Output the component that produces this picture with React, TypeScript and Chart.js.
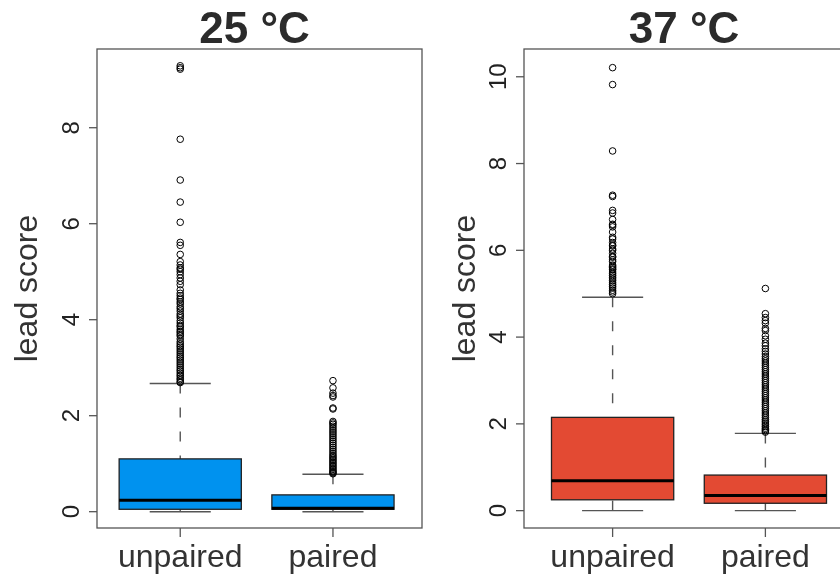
import React, { useEffect, useRef } from 'react';
import { Chart, registerables } from 'chart.js';

Chart.register(...registerables);

// ---------- data ----------
const categories = ['unpaired', 'paired'];

const title25 = '25 °C';
const yTicks25 = [0, 2, 4, 6, 8];
const whiskerLo25 = [0, 0];
const q1_25 = [0.05, 0.05];
const median25 = [0.24, 0.07];
const q3_25 = [1.1, 0.35];
const whiskerHi25 = [2.67, 0.78];
const outliers25Unpaired = [9.29, 9.25, 9.22, 7.76, 6.91, 6.45, 6.03, 5.61, 5.55, 5.36, 5.21, 5.14, 5.08, 5.05, 5.0, 4.94, 4.87, 4.8, 4.73, 4.62, 4.55, 4.5, 4.45, 4.42, 4.37, 4.33, 4.27, 4.23, 4.18, 4.12, 4.08, 4.04, 3.98, 3.93, 3.88, 3.85, 3.8, 3.76, 3.73, 3.69, 3.66, 3.6, 3.54, 3.5, 3.46, 3.43, 3.39, 3.35, 3.31, 3.27, 3.23, 3.2, 3.16, 3.12, 3.08, 3.04, 3.0, 2.96, 2.93, 2.89, 2.85, 2.82, 2.78, 2.75, 2.71, 2.69];
const outliers25Paired = [2.73, 2.58, 2.47, 2.42, 2.39, 2.16, 2.14, 1.88, 1.85, 1.82, 1.78, 1.74, 1.7, 1.66, 1.62, 1.58, 1.54, 1.5, 1.46, 1.42, 1.38, 1.34, 1.3, 1.26, 1.22, 1.18, 1.15, 1.12, 1.09, 1.06, 1.03, 1.0, 0.97, 0.94, 0.91, 0.88, 0.85, 0.83, 0.81, 0.79];

const title37 = '37 °C';
const yTicks37 = [0, 2, 4, 6, 8, 10];
const whiskerLo37 = [0, 0];
const q1_37 = [0.25, 0.17];
const median37 = [0.69, 0.35];
const q3_37 = [2.15, 0.82];
const whiskerHi37 = [4.92, 1.78];
const outliers37Unpaired = [10.21, 9.82, 8.29, 7.27, 7.24, 6.92, 6.86, 6.71, 6.6, 6.58, 6.54, 6.42, 6.3, 6.26, 6.18, 6.12, 6.1, 6.03, 6.0, 5.93, 5.86, 5.84, 5.78, 5.74, 5.66, 5.63, 5.6, 5.57, 5.55, 5.5, 5.46, 5.42, 5.38, 5.34, 5.3, 5.25, 5.21, 5.17, 5.13, 5.08, 5.04, 5.0];
const outliers37Paired = [5.12, 4.54, 4.45, 4.38, 4.32, 4.2, 4.15, 4.03, 3.95, 3.86, 3.8, 3.73, 3.67, 3.61, 3.55, 3.5, 3.45, 3.4, 3.35, 3.3, 3.25, 3.2, 3.15, 3.1, 3.05, 3.0, 2.95, 2.9, 2.85, 2.8, 2.75, 2.7, 2.65, 2.6, 2.55, 2.5, 2.45, 2.4, 2.35, 2.3, 2.25, 2.2, 2.15, 2.1, 2.06, 2.02, 1.98, 1.94, 1.9, 1.87, 1.84, 1.81];

const yTitle = 'lead score';

// ---------- styling ----------
const FONT = '"Liberation Sans", Arial, Helvetica, sans-serif';
const BLUE = '#0092EF';
const RED = '#E34A33';

type PanelSpec = {
  title: string;
  yTicks: number[];
  lo: number[];
  q1: number[];
  med: number[];
  q3: number[];
  hi: number[];
  outliers: number[][];
  fill: string;
  xMin: number;
  xMax: number;
  yMin: number;
  yMax: number;
  padding: { left: number; right: number; top: number; bottom: number };
  yTitleBaseline: number;
  canvasLeft: number;
  canvasWidth: number;
};

function boxPlugin(p: PanelSpec) {
  return {
    id: 'rBoxplot',
    beforeDatasetsDraw(chart: any) {
      const { ctx, scales } = chart;
      const x = scales.x;
      const y = scales.y;
      ctx.save();
      const line = (x1: number, y1: number, x2: number, y2: number) => {
        ctx.beginPath();
        ctx.moveTo(x1, y1);
        ctx.lineTo(x2, y2);
        ctx.stroke();
      };
      p.q1.forEach((_, i) => {
        const pos = i + 1;
        const cx = x.getPixelForValue(pos);
        const bl = x.getPixelForValue(pos - 0.4);
        const br = x.getPixelForValue(pos + 0.4);
        const cl = x.getPixelForValue(pos - 0.2);
        const cr = x.getPixelForValue(pos + 0.2);
        const yLo = y.getPixelForValue(p.lo[i]);
        const yQ1 = y.getPixelForValue(p.q1[i]);
        const yMed = y.getPixelForValue(p.med[i]);
        const yQ3 = y.getPixelForValue(p.q3[i]);
        const yHi = y.getPixelForValue(p.hi[i]);
        // whiskers (dashed)
        ctx.strokeStyle = '#555';
        ctx.lineWidth = 1.4;
        ctx.setLineDash([10, 14]);
        line(cx, yHi, cx, yQ3);
        line(cx, yLo, cx, yQ1);
        ctx.setLineDash([]);
        // staples
        line(cl, yHi, cr, yHi);
        line(cl, yLo, cr, yLo);
        // box
        ctx.fillStyle = p.fill;
        ctx.fillRect(bl, yQ3, br - bl, yQ1 - yQ3);
        ctx.strokeStyle = '#222';
        ctx.lineWidth = 1.3;
        ctx.strokeRect(bl, yQ3, br - bl, yQ1 - yQ3);
        // median
        ctx.strokeStyle = '#000';
        ctx.lineWidth = 3;
        line(bl, yMed, br, yMed);
      });
      ctx.restore();
    },
    afterDraw(chart: any) {
      const { ctx, chartArea: a, scales } = chart;
      const x = scales.x;
      const y = scales.y;
      ctx.save();
      // frame
      ctx.strokeStyle = '#555';
      ctx.lineWidth = 1.3;
      ctx.strokeRect(a.left, a.top, a.right - a.left, a.bottom - a.top);
      // y ticks + labels
      ctx.fillStyle = '#222';
      ctx.font = `24px ${FONT}`;
      p.yTicks.forEach((t) => {
        const py = y.getPixelForValue(t);
        ctx.beginPath();
        ctx.moveTo(a.left - 8, py);
        ctx.lineTo(a.left, py);
        ctx.stroke();
        ctx.save();
        ctx.translate(a.left - 18, py);
        ctx.rotate(-Math.PI / 2);
        ctx.textAlign = 'center';
        ctx.textBaseline = 'alphabetic';
        ctx.fillText(String(t), 0, 0);
        ctx.restore();
      });
      // x ticks + labels
      ctx.fillStyle = '#333';
      ctx.font = `32px ${FONT}`;
      categories.forEach((c, i) => {
        const px = x.getPixelForValue(i + 1);
        ctx.beginPath();
        ctx.moveTo(px, a.bottom);
        ctx.lineTo(px, a.bottom + 9);
        ctx.stroke();
        ctx.textAlign = 'center';
        ctx.textBaseline = 'alphabetic';
        ctx.fillText(c, px, 566.5);
      });
      // y title
      ctx.save();
      ctx.translate(p.yTitleBaseline, (a.top + a.bottom) / 2);
      ctx.rotate(-Math.PI / 2);
      ctx.textAlign = 'center';
      ctx.textBaseline = 'alphabetic';
      ctx.fillText(yTitle, 0, 0);
      ctx.restore();
      // main title
      ctx.fillStyle = '#2b2b2b';
      ctx.font = `bold 44px ${FONT}`;
      ctx.textAlign = 'center';
      ctx.textBaseline = 'alphabetic';
      ctx.fillText(p.title, (a.left + a.right) / 2 - 5, 43);
      ctx.restore();
    },
  };
}

function Panel({ spec }: { spec: PanelSpec }) {
  const ref = useRef<HTMLCanvasElement | null>(null);
  useEffect(() => {
    if (!ref.current) return;
    const datasets = spec.outliers.map((vals, i) => ({
      label: categories[i],
      data: vals.map((v) => ({ x: i + 1, y: v })),
      pointStyle: 'circle',
      pointRadius: 3.3,
      pointBorderWidth: 1,
      pointBorderColor: '#000',
      pointBackgroundColor: 'rgba(0,0,0,0)',
      showLine: false,
    }));
    const chart = new Chart(ref.current, {
      type: 'scatter',
      data: { datasets },
      options: {
        responsive: false,
        animation: false,
        devicePixelRatio: 1,
        layout: { padding: spec.padding },
        plugins: { legend: { display: false }, tooltip: { enabled: false }, title: { display: false } },
        scales: {
          x: { type: 'linear', min: spec.xMin, max: spec.xMax, display: false },
          y: { type: 'linear', min: spec.yMin, max: spec.yMax, display: false },
        },
      },
      plugins: [boxPlugin(spec)],
    } as any);
    return () => chart.destroy();
  }, [spec]);
  return (
    <canvas
      ref={ref}
      width={spec.canvasWidth}
      height={576}
      style={{ position: 'absolute', left: spec.canvasLeft, top: 0, width: spec.canvasWidth, height: 576 }}
    />
  );
}

const spec25: PanelSpec = {
  title: title25,
  yTicks: yTicks25,
  lo: whiskerLo25,
  q1: q1_25,
  med: median25,
  q3: q3_25,
  hi: whiskerHi25,
  outliers: [outliers25Unpaired, outliers25Paired],
  fill: BLUE,
  xMin: 0.455,
  xMax: 2.583,
  yMin: -0.34,
  yMax: 9.64,
  padding: { left: 97, right: 8, top: 49, bottom: 48 },
  yTitleBaseline: 37,
  canvasLeft: 0,
  canvasWidth: 430,
};

const spec37: PanelSpec = {
  title: title37,
  yTicks: yTicks37,
  lo: whiskerLo37,
  q1: q1_37,
  med: median37,
  q3: q3_37,
  hi: whiskerHi37,
  outliers: [outliers37Unpaired, outliers37Paired],
  fill: RED,
  xMin: 0.42,
  xMax: 2.58,
  yMin: -0.4,
  yMax: 10.64,
  padding: { left: 97, right: 13, top: 49, bottom: 48 },
  yTitleBaseline: 48,
  canvasLeft: 427,
  canvasWidth: 440,
};

export default function App() {
  return (
    <div
      style={{
        position: 'absolute',
        left: 0,
        top: 0,
        width: 840,
        height: 576,
        overflow: 'hidden',
        background: '#fff',
      }}
    >
      <Panel spec={spec25} />
      <Panel spec={spec37} />
    </div>
  );
}
